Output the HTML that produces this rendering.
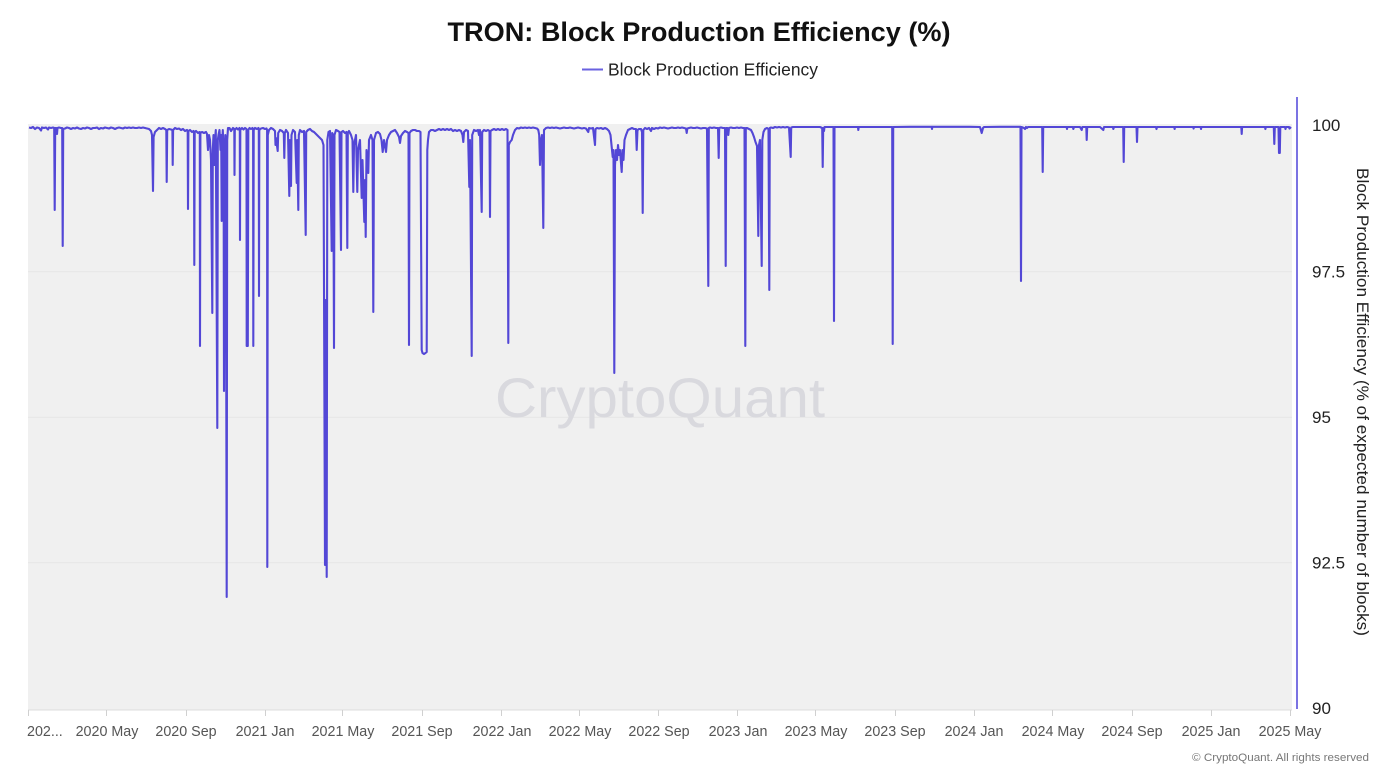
<!DOCTYPE html>
<html>
<head>
<meta charset="utf-8">
<style>
html,body{margin:0;padding:0;background:#ffffff;}
svg{display:block;font-family:"Liberation Sans",Arial,sans-serif;}
</style>
</head>
<body>
<svg width="1386" height="776" viewBox="0 0 1386 776" xmlns="http://www.w3.org/2000/svg">
  <defs>
    <clipPath id="pc"><rect x="28" y="96" width="1264" height="614"/></clipPath>
  </defs>
  <rect x="0" y="0" width="1386" height="776" fill="#ffffff"/>
  <!-- Title -->
  <text x="699" y="41" text-anchor="middle" font-size="27" font-weight="bold" fill="#111111" textLength="503" lengthAdjust="spacingAndGlyphs">TRON: Block Production Efficiency (%)</text>
  <!-- Legend -->
  <line x1="582" y1="69.5" x2="603" y2="69.5" stroke="#6a62e0" stroke-width="2"/>
  <text x="608" y="75.5" font-size="17.5" fill="#222222" textLength="210" lengthAdjust="spacingAndGlyphs">Block Production Efficiency</text>

  <!-- Plot background -->
  <rect x="28" y="124" width="1264" height="586" fill="#f0f0f0"/>
  <!-- gridlines -->
  <line x1="28" y1="271.7" x2="1292" y2="271.7" stroke="#e6e6e6" stroke-width="1"/>
  <line x1="28" y1="417.2" x2="1292" y2="417.2" stroke="#e6e6e6" stroke-width="1"/>
  <line x1="28" y1="562.7" x2="1292" y2="562.7" stroke="#e6e6e6" stroke-width="1"/>
  <line x1="28" y1="710" x2="1292" y2="710" stroke="#dddddd" stroke-width="1"/>

  <!-- Watermark -->
  <text x="660" y="417" text-anchor="middle" font-size="56" fill="#d9d9de" textLength="330" lengthAdjust="spacingAndGlyphs">CryptoQuant</text>

  <!-- x ticks -->
  <g stroke="#d0d0d0" stroke-width="1">
    <line x1="28.5" y1="710" x2="28.5" y2="716"/>
    <line x1="106.5" y1="710" x2="106.5" y2="716"/>
    <line x1="186.5" y1="710" x2="186.5" y2="716"/>
    <line x1="265.5" y1="710" x2="265.5" y2="716"/>
    <line x1="342.5" y1="710" x2="342.5" y2="716"/>
    <line x1="422.5" y1="710" x2="422.5" y2="716"/>
    <line x1="501.5" y1="710" x2="501.5" y2="716"/>
    <line x1="579.5" y1="710" x2="579.5" y2="716"/>
    <line x1="658.5" y1="710" x2="658.5" y2="716"/>
    <line x1="737.5" y1="710" x2="737.5" y2="716"/>
    <line x1="815.5" y1="710" x2="815.5" y2="716"/>
    <line x1="895.5" y1="710" x2="895.5" y2="716"/>
    <line x1="974.5" y1="710" x2="974.5" y2="716"/>
    <line x1="1052.5" y1="710" x2="1052.5" y2="716"/>
    <line x1="1132.5" y1="710" x2="1132.5" y2="716"/>
    <line x1="1211.5" y1="710" x2="1211.5" y2="716"/>
    <line x1="1290.5" y1="710" x2="1290.5" y2="716"/>
  </g>
  <!-- x labels -->
  <g font-size="14.3" fill="#555555" text-anchor="middle">
    <text x="27" y="736" text-anchor="start">202...</text>
    <text x="107" y="736">2020 May</text>
    <text x="186" y="736">2020 Sep</text>
    <text x="265" y="736">2021 Jan</text>
    <text x="343" y="736">2021 May</text>
    <text x="422" y="736">2021 Sep</text>
    <text x="502" y="736">2022 Jan</text>
    <text x="580" y="736">2022 May</text>
    <text x="659" y="736">2022 Sep</text>
    <text x="738" y="736">2023 Jan</text>
    <text x="816" y="736">2023 May</text>
    <text x="895" y="736">2023 Sep</text>
    <text x="974" y="736">2024 Jan</text>
    <text x="1053" y="736">2024 May</text>
    <text x="1132" y="736">2024 Sep</text>
    <text x="1211" y="736">2025 Jan</text>
    <text x="1290" y="736">2025 May</text>
  </g>
  <text x="1369" y="761" text-anchor="end" font-size="11" fill="#777777" textLength="177" lengthAdjust="spacingAndGlyphs">© CryptoQuant. All rights reserved</text>

  <!-- Right axis -->
  <line x1="1297" y1="97" x2="1297" y2="709" stroke="#5a50dc" stroke-width="1.6"/>
  <g font-size="17" fill="#222222">
    <text x="1312" y="131">100</text>
    <text x="1312" y="277.5">97.5</text>
    <text x="1312" y="423">95</text>
    <text x="1312" y="568.5">92.5</text>
    <text x="1312" y="714">90</text>
  </g>
  <text transform="translate(1357,402) rotate(90)" text-anchor="middle" font-size="17" fill="#222222" textLength="468" lengthAdjust="spacingAndGlyphs">Block Production Efficiency (% of expected number of blocks)</text>

  <!-- Data series -->
  <path clip-path="url(#pc)" fill="none" stroke="#5347d6" stroke-width="2.1" stroke-linejoin="round" d="
M29,127.5 L31,128 L33,127 L35,129 L37,127.5 L39,128 L41,130.5 L42,127.5 L44,128 L46,127.5 L48,129.5 L49,127.5 L51,128 L53,127.5
L54.2,128 L54.7,210 L55.2,128 L56.5,128 L57,134 L57.5,128 L59,127.5 L61,128
L62.2,128 L62.7,246 L63.2,129
L65,128.5 L67,127.5 L69,128 L71,129 L73,128 L75,128.5 L77,127.5 L79,128.5 L81,129 L83,128 L85,128.5 L87,127.5 L89,128 L91,129 L93,128 L95,128 L97,127.5 L99,129 L101,128 L103,128.5 L105,127.5 L107,128 L109,128.5 L111,127.5 L113,128 L115,129 L117,128 L119,127.5 L121,128 L123,128.5 L125,127.5 L127,128 L129,127.5 L131,128 L133,127.5 L135,128 L137,128 L139,127.5 L141,128 L143,127.5 L145,128 L147,128.5 L149,129 L151,131 L152,135
L153,191 L153.6,137 L155,132 L157,130 L159,128 L161,129 L163,128 L165,129
L166.3,130 L166.7,182 L167.2,130 L169,129 L171,129.5
L172.4,130 L172.7,165 L173.1,130 L175,128 L177,129 L179,128.5 L181,130 L183,129 L185,131 L187,130
L187.7,131 L188,209 L188.4,131 L190,130 L192,132 L193.5,131
L194,132 L194.3,265 L194.7,132 L196,131 L198,133 L199.5,132
L199.8,132 L200,346 L200.4,133 L202,132 L204,133 L206,132 L207,134 L208,150 L209,135 L210,140 L211,160
L212.3,313 L212.8,150 L213.5,135 L214.3,165 L215,140 L215.8,130
L217.3,428 L217.8,140 L218.5,135 L219.5,130 L220.5,150 L221.2,135
L221.7,221 L222.3,140 L222.8,130
L223.6,150 L224,391 L224.5,200 L225.3,135 L225.8,150
L226.7,597 L227.2,140 L228,128 L229.5,128 L231,131 L233,128
L234.3,129 L234.5,175 L234.8,130 L236.5,128 L238,129.5 L239.5,128
L239.8,129 L240,240 L240.3,130 L242,128 L243.5,129.5 L245,128
L246.5,129 L246.7,346 L247.2,200 L247.8,346 L248.3,130 L249.5,128 L251,129 L252.5,128
L253.1,129 L253.3,346 L253.7,130 L255,128 L257,129 L258.5,128
L258.8,130 L259,296 L259.3,130 L261,128.5 L263,128 L265,129 L266.5,128.5
L267.1,130 L267.3,567 L267.8,135 L269,130 L271,128 L273,129 L275,131
L275.5,145 L276,138 L277.7,151 L278.2,133 L280,130 L282,131 L283.8,133
L284.3,158 L284.8,133 L286,130 L288,133
L289.3,196 L289.8,140 L291,186 L291.5,135 L293,130 L295,132
L296.7,183 L297.2,140 L298.3,210 L298.8,135 L300,130 L302,132 L304,131
L305.7,235 L306.2,132 L308,130 L310,129 L312,131 L314,132 L316,134 L318,136 L320,138 L322,140 L323.5,145
L325,565 L325.6,300 L326.7,577 L327.3,140 L328.5,132 L330,131
L331.7,251 L332.2,133 L333.2,135 L334,348 L334.5,135 L336,130 L338,131 L339.5,132
L341,250 L341.5,132 L343,131 L345,133 L346.5,132
L347.3,248 L347.8,133 L349,131 L351,135 L352.5,140
L353.3,192 L354,145 L356,135 L357.3,192 L358,150 L360,140 L361.7,198 L362.5,160 L364.3,222 L365,180 L365.7,237 L366.5,150 L368.3,173 L369,140 L371,135 L372.5,140
L373.3,312 L374,140 L376,133 L378,132 L380,134 L381.5,140 L382.7,152 L384,140 L386,152 L387,140 L389,135 L391,132 L393,131 L395,130 L397,133 L399,137 L400,143 L401,136 L403,133 L405,131 L407,132 L408.5,133
L409,345 L409.5,133 L411,131 L413,130 L415,130 L417,131 L419,131 L420.5,132
L421.7,350 L422.5,353 L424,354 L425.5,353 L426.7,352 L427.3,150 L428,140 L429,132 L431,130 L433,130 L435,131 L437,130 L439,129 L441,130 L443,129 L445,130 L447,129 L449,130 L451,129 L453,131 L455,130 L457,131 L459,130 L461,131 L462.5,135 L463.3,142 L464,132 L466,130 L468,131
L469.3,187 L470,140 L471.7,356 L472.2,135 L474,130 L476,131 L478,130 L479,135 L480,130
L481.7,212 L482.2,132 L484,130 L486,131 L488,130 L489.5,131
L490,217 L490.5,131 L492,130 L494,129 L496,130 L498,129 L500,130 L502,129 L504,130 L506,129 L507.5,130
L508.3,343 L508.8,145 L510,142 L511.7,140 L513,135 L515,130 L517,128 L519,128.5 L521,127.5 L523,128 L525,127.5 L527,128 L529,127.5 L531,128 L533,127.5 L535,128 L537,128.5 L538.3,130
L539.2,135 L540,165 L541,140 L542,135 L543.3,228 L544,130 L546,128 L548,127.5
L550,128 L552,127.5 L554,128 L556,127.5 L558,128 L560,128.5 L562,128 L564,127.5 L566,128 L568,128 L570,127.5 L572,128 L574,128.5 L576,128 L578,127.5 L580,128 L582,128.5 L584,128 L586,128.5 L588.3,132 L589,128 L591,128.5 L593,128 L595,145 L595.5,129 L597,128 L599,128.5 L601,128 L603,129 L605,128 L607,129 L609,131 L610.5,135 L611.5,145
L612.7,157 L613.5,150 L614.3,373 L615,165 L616,150 L617,160 L618,145 L619,155 L620,150 L621.7,172 L622.5,150 L623.5,160 L624.5,140 L626,135 L628,130 L630,129 L632,128 L634,129 L636,129 L636.7,150 L637.5,130 L639,129 L641,129 L642,132
L642.7,213 L643.3,130 L645,128 L647,129 L649,128 L651,131 L652,128 L654,129 L656,128
L658,128.5 L660,127.5 L662,128 L664,127.5 L666,128 L668,128.5 L670,128 L672,127.5 L674,128 L676,128 L678,127.5 L680,128 L682,127.5 L684,128 L686,128.5 L686.7,133 L687.3,128.5 L689,128 L691,127.5 L693,128 L695,128 L697,127.5 L699,128 L701,128.5 L703,128 L705,128 L707,128.5
L708.3,286 L708.8,128 L710,127.5 L712,128 L714,127.5 L716,128 L718,128
L718.7,158 L719.2,128 L721,127.5 L723,128 L725,128
L725.7,266 L726.2,128 L727.5,128 L728.3,135 L729,128 L731,127.5 L733,128 L735,128 L737,127.5 L739,128 L741,127.5 L743,128 L744.5,128
L745.3,346 L745.8,128 L747,128 L749,129 L751,130 L752.5,133 L754,137 L755.5,142 L757,146 L758.3,236 L759,145 L760,140 L761.7,266 L762.3,140 L763.5,132 L765,129 L767,128 L768.5,129
L769.3,290 L769.8,128 L771,127.5 L773,128 L775,127 L777,127.5 L779,127 L781,127.5 L783,127 L785,127.5 L787,127 L789,127.5 L790.7,157 L791.2,127.5 L793,127
L800,127 L810,127 L820,127 L822.2,128 L822.7,167 L823.2,128 L824,131 L824.5,127 L833.5,127 L834,321 L834.5,127 L850,127 L858,127 L858.3,130 L858.7,127 L870,127 L892.2,127 L892.7,344 L893.2,127 L910,126.8 L931.7,126.8 L932,129 L932.3,126.8 L950,126.8 L970,126.8 L980,127 L981.7,133 L983,128 L984,127 L1000,126.8 L1020.5,126.8 L1021,281 L1021.5,127 L1024,128 L1025,129 L1026,127 L1027,128 L1028,127 L1042.2,127 L1042.7,172 L1043.2,127 L1066.7,127 L1067,129 L1067.3,127 L1073,127 L1073.3,129 L1074,127 L1080,127 L1081.7,130 L1082.3,127 L1086.3,127 L1086.7,140 L1087.2,127 L1100,127 L1103.3,130 L1104,127 L1113,127 L1113.3,129 L1114,127 L1123.2,127 L1123.7,162 L1124.2,127 L1136.5,127 L1137,142 L1137.5,127 L1156,127 L1156.5,129 L1157,127 L1174.3,127 L1174.6,129 L1175,127 L1193.3,127 L1193.6,128.5 L1194,127 L1200.7,127 L1201,129 L1201.4,127 L1241.3,127 L1241.7,134 L1242.1,127 L1265,127 L1265.4,129 L1265.8,127 L1273.8,127 L1274.3,144 L1274.8,127 L1278.5,127 L1279,153 L1279.8,153 L1280.3,127 L1285,127 L1285.5,129 L1286,127 L1289,127 L1289.5,128.5 L1291,127"/>
</svg>
</body>
</html>
